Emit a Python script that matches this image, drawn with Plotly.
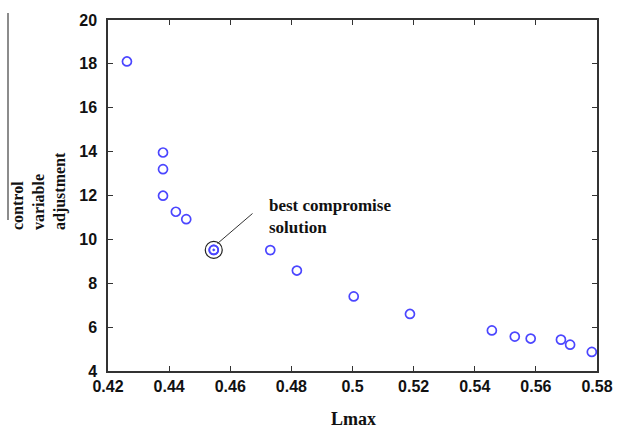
import plotly.graph_objects as go

lmax = [0.4262, 0.438, 0.438, 0.438, 0.4422, 0.4456, 0.4546, 0.4731, 0.4818,
        0.5004, 0.5188, 0.5456, 0.5531, 0.5583, 0.5682, 0.5712, 0.5783]
adjust = [18.11, 13.96, 13.2, 11.99, 11.26, 10.92, 9.52, 9.51, 8.58,
          7.40, 6.60, 5.85, 5.57, 5.48, 5.43, 5.20, 4.87]
best_x = [0.4546]
best_y = [9.52]
x_ticks = [0.42, 0.44, 0.46, 0.48, 0.5, 0.52, 0.54, 0.56, 0.58]
x_tick_text = ["0.42", "0.44", "0.46", "0.48", "0.5", "0.52", "0.54", "0.56", "0.58"]
y_ticks = [4, 6, 8, 10, 12, 14, 16, 18, 20]

W, H = 620, 429
L, R, T, B = 108, 597, 20, 371
pw, ph = R - L, B - T

def px(xp):
    return (xp - L) / pw

def py(yp):
    return (B - yp) / ph

fig = go.Figure()
fig.add_trace(go.Scatter(
    x=lmax, y=adjust, mode="markers",
    marker=dict(symbol="circle-open", size=9, color="#4b46ff", line=dict(width=1.7)),
    showlegend=False))
fig.add_trace(go.Scatter(
    x=best_x, y=best_y, mode="markers",
    marker=dict(symbol="circle-open-dot", size=9, color="#4b46ff", line=dict(width=1.7)),
    showlegend=False))
fig.add_trace(go.Scatter(
    x=best_x, y=best_y, mode="markers",
    marker=dict(symbol="circle-open", size=17, color="#222222", line=dict(width=1.2)),
    showlegend=False))

tick_font = dict(family="Liberation Sans", size=16, color="#111", weight="bold")
fig.update_layout(
    width=W, height=H,
    margin=dict(l=L, r=W - R, t=T, b=H - B),
    paper_bgcolor="white", plot_bgcolor="white",
    xaxis=dict(range=[0.42, 0.58], tickvals=x_ticks, ticktext=x_tick_text,
               ticks="inside", ticklen=5, tickcolor="#333", mirror="ticks",
               showline=True, linecolor="#333", linewidth=1.5, showgrid=False, zeroline=False,
               tickfont=tick_font, ticklabelstandoff=0, automargin=False),
    yaxis=dict(range=[4, 20], tickvals=y_ticks,
               ticks="inside", ticklen=5, tickcolor="#333", mirror="ticks",
               showline=True, linecolor="#333", linewidth=1.5, showgrid=False, zeroline=False,
               tickfont=tick_font, ticklabelstandoff=6, automargin=False),
)

# x-axis title
fig.add_annotation(xref="paper", yref="paper", x=px(353), y=py(419),
                   xanchor="center", yanchor="middle", showarrow=False, text="Lmax",
                   font=dict(family="Liberation Serif", size=18, color="#111", weight="bold"))

# annotation line to best compromise solution
fig.add_shape(type="line", xref="paper", yref="paper",
              x0=px(217.5), y0=py(243.5), x1=px(252.5), y1=py(213.5),
              line=dict(color="#333", width=1))
fig.add_annotation(xref="paper", yref="paper", x=px(267), y=py(194),
                   xanchor="left", yanchor="top", align="left", showarrow=False,
                   text="best compromise<br>solution",
                   font=dict(family="Liberation Serif", size=17, color="#111", weight="bold"))

# y-axis title (three rotated lines, left-aligned)
fig.add_annotation(xref="paper", yref="paper", x=px(39), y=py(191),
                   xanchor="center", yanchor="middle", align="left", showarrow=False,
                   textangle=-90, text="control<br>variable<br>adjustment",
                   font=dict(family="Liberation Serif", size=16, color="#111", weight="bold"))
fig.add_shape(type="line", xref="paper", yref="paper",
              x0=px(8), y0=py(13), x1=px(8), y1=py(220),
              line=dict(color="#666", width=1.5))

fig.write_html("out.html")
